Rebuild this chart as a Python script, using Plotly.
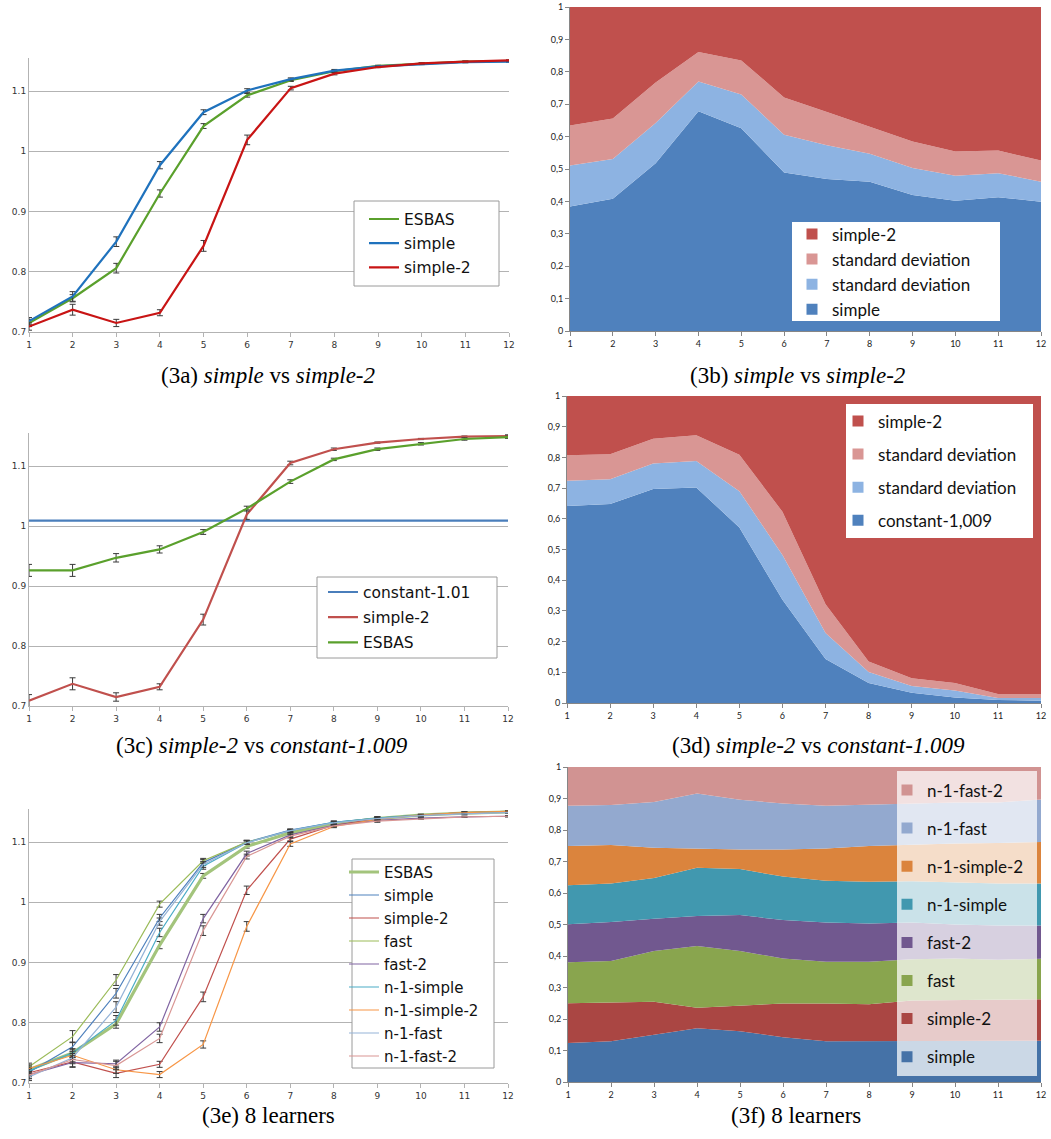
import plotly.graph_objects as go

W, H = 1051, 1139

# ---------------- data ----------------
steps = [1, 2, 3, 4, 5, 6, 7, 8, 9, 10, 11, 12]
line_yticks = [0.7, 0.8, 0.9, 1.0, 1.1]
share_tickvals = [0, 0.1, 0.2, 0.3, 0.4, 0.5, 0.6, 0.7, 0.8, 0.9, 1.0]
share_ticktext = ["0", "0,1", "0,2", "0,3", "0,4", "0,5", "0,6", "0,7", "0,8", "0,9", "1"]

# (3a)
a_esbas = [0.715, 0.756, 0.806, 0.930, 1.042, 1.093, 1.118, 1.133, 1.142, 1.146, 1.149, 1.150]
a_esbas_err = [0.006, 0.006, 0.008, 0.006, 0.004, 0.003, 0.002, 0.002, 0.001, 0.001, 0.001, 0.001]
a_simple = [0.718, 0.759, 0.850, 0.977, 1.065, 1.101, 1.120, 1.134, 1.141, 1.145, 1.148, 1.149]
a_simple_err = [0.006, 0.008, 0.008, 0.006, 0.004, 0.003, 0.002, 0.002, 0.001, 0.001, 0.001, 0.001]
a_simple2 = [0.709, 0.737, 0.715, 0.732, 0.843, 1.019, 1.105, 1.129, 1.140, 1.146, 1.149, 1.151]
a_simple2_err = [0.006, 0.009, 0.006, 0.005, 0.009, 0.008, 0.003, 0.002, 0.001, 0.001, 0.001, 0.001]

# (3b) stacked shares
b_simple = [0.384, 0.408, 0.518, 0.678, 0.626, 0.489, 0.469, 0.461, 0.420, 0.402, 0.413, 0.399]
b_sd_low = [0.127, 0.123, 0.124, 0.092, 0.104, 0.117, 0.104, 0.086, 0.083, 0.077, 0.074, 0.062]
b_sd_high = [0.123, 0.125, 0.125, 0.091, 0.105, 0.115, 0.103, 0.084, 0.082, 0.075, 0.070, 0.065]
b_simple2 = [0.366, 0.344, 0.233, 0.139, 0.165, 0.279, 0.324, 0.369, 0.415, 0.446, 0.443, 0.474]

# (3c)
c_const = [1.009, 1.009, 1.009, 1.009, 1.009, 1.009, 1.009, 1.009, 1.009, 1.009, 1.009, 1.009]
c_simple2 = [0.709, 0.737, 0.715, 0.732, 0.844, 1.019, 1.105, 1.128, 1.139, 1.145, 1.149, 1.150]
c_simple2_err = [0.010, 0.010, 0.007, 0.005, 0.009, 0.008, 0.003, 0.002, 0.001, 0.001, 0.001, 0.002]
c_esbas = [0.926, 0.926, 0.947, 0.961, 0.990, 1.029, 1.074, 1.111, 1.128, 1.137, 1.145, 1.148]
c_esbas_err = [0.010, 0.010, 0.007, 0.006, 0.004, 0.004, 0.003, 0.002, 0.002, 0.002, 0.002, 0.002]

# (3d) stacked shares
d_const = [0.642, 0.648, 0.697, 0.702, 0.572, 0.336, 0.143, 0.065, 0.033, 0.018, 0.010, 0.007]
d_sd_low = [0.082, 0.081, 0.083, 0.086, 0.118, 0.146, 0.085, 0.036, 0.022, 0.023, 0.006, 0.009]
d_sd_high = [0.083, 0.081, 0.081, 0.084, 0.119, 0.141, 0.094, 0.034, 0.026, 0.024, 0.013, 0.013]
d_simple2 = [0.193, 0.190, 0.139, 0.128, 0.191, 0.377, 0.678, 0.865, 0.919, 0.935, 0.971, 0.971]

# (3e) 8 learners + ESBAS
e_esbas = [0.722, 0.750, 0.798, 0.929, 1.044, 1.093, 1.115, 1.130, 1.139, 1.145, 1.148, 1.150]
e_simple = [0.718, 0.760, 0.849, 0.974, 1.066, 1.100, 1.120, 1.133, 1.140, 1.145, 1.149, 1.151]
e_simple2 = [0.717, 0.735, 0.716, 0.731, 0.843, 1.020, 1.105, 1.128, 1.139, 1.145, 1.149, 1.150]
e_fast = [0.727, 0.777, 0.871, 0.997, 1.069, 1.100, 1.118, 1.132, 1.140, 1.145, 1.149, 1.151]
e_fast2 = [0.714, 0.734, 0.732, 0.793, 0.973, 1.081, 1.112, 1.128, 1.136, 1.140, 1.142, 1.143]
e_n1simple = [0.720, 0.750, 0.804, 0.950, 1.060, 1.099, 1.119, 1.133, 1.140, 1.145, 1.148, 1.150]
e_n1simple2 = [0.724, 0.746, 0.722, 0.714, 0.764, 0.960, 1.097, 1.126, 1.138, 1.145, 1.149, 1.151]
e_n1fast = [0.710, 0.742, 0.826, 0.968, 1.063, 1.099, 1.119, 1.132, 1.139, 1.144, 1.147, 1.149]
e_n1fast2 = [0.713, 0.739, 0.729, 0.774, 0.953, 1.076, 1.110, 1.127, 1.135, 1.139, 1.142, 1.143]
e_esbas_err = [0.006, 0.006, 0.007, 0.006, 0.004, 0.003, 0.002, 0.002, 0.002, 0.001, 0.001, 0.001]
e_simple_err = [0.006, 0.008, 0.008, 0.006, 0.005, 0.003, 0.002, 0.002, 0.002, 0.001, 0.001, 0.001]
e_simple2_err = [0.006, 0.008, 0.007, 0.005, 0.008, 0.007, 0.003, 0.002, 0.002, 0.001, 0.001, 0.001]
e_fast_err = [0.006, 0.010, 0.009, 0.005, 0.004, 0.003, 0.002, 0.002, 0.002, 0.001, 0.001, 0.001]
e_fast2_err = [0.006, 0.008, 0.006, 0.007, 0.007, 0.004, 0.003, 0.002, 0.002, 0.001, 0.001, 0.001]
e_n1simple_err = [0.006, 0.007, 0.008, 0.007, 0.005, 0.003, 0.002, 0.002, 0.002, 0.001, 0.001, 0.001]
e_n1simple2_err = [0.006, 0.007, 0.006, 0.005, 0.006, 0.008, 0.004, 0.002, 0.002, 0.001, 0.001, 0.001]
e_n1fast_err = [0.006, 0.007, 0.009, 0.006, 0.005, 0.003, 0.002, 0.002, 0.002, 0.001, 0.001, 0.001]
e_n1fast2_err = [0.006, 0.007, 0.007, 0.007, 0.008, 0.004, 0.003, 0.002, 0.002, 0.001, 0.001, 0.001]

# (3f) stacked shares of the 8 learners
f_simple = [0.124, 0.129, 0.150, 0.171, 0.161, 0.142, 0.129, 0.129, 0.131, 0.131, 0.131, 0.131]
f_simple2 = [0.126, 0.123, 0.105, 0.065, 0.082, 0.107, 0.120, 0.118, 0.128, 0.130, 0.132, 0.132]
f_fast = [0.130, 0.132, 0.161, 0.196, 0.173, 0.143, 0.133, 0.135, 0.131, 0.131, 0.125, 0.128]
f_fast2 = [0.121, 0.124, 0.102, 0.095, 0.114, 0.122, 0.124, 0.121, 0.116, 0.108, 0.109, 0.106]
f_n1simple = [0.124, 0.122, 0.130, 0.153, 0.146, 0.138, 0.133, 0.133, 0.131, 0.133, 0.133, 0.133]
f_n1simple2 = [0.124, 0.122, 0.096, 0.061, 0.062, 0.086, 0.102, 0.113, 0.117, 0.124, 0.129, 0.132]
f_n1fast = [0.128, 0.127, 0.145, 0.175, 0.158, 0.146, 0.136, 0.131, 0.130, 0.130, 0.128, 0.135]
f_n1fast2 = [0.123, 0.121, 0.111, 0.084, 0.104, 0.116, 0.123, 0.120, 0.116, 0.113, 0.113, 0.103]

# ---------------- styling ----------------
LINE_FONT = "DejaVu Sans"
AREA_FONT = "Lato"
ERR = dict(type="data", color="#3a3a3a", thickness=1, width=3)

fig = go.Figure()


def dom_x(l, r):
    return [l / W, r / W]


def dom_y(t, b):
    return [1 - b / H, 1 - t / H]


panels = {
    1: dict(x=(29, 509), y=(58, 332), kind="line"),
    2: dict(x=(570, 1041), y=(7, 331), kind="area"),
    3: dict(x=(29, 508), y=(433, 706), kind="line"),
    4: dict(x=(567, 1041), y=(396, 703), kind="area"),
    5: dict(x=(29, 508), y=(809, 1083), kind="line"),
    6: dict(x=(568, 1041), y=(767, 1082), kind="area"),
}

layout = {}
for n, p in panels.items():
    xs = "xaxis" if n == 1 else f"xaxis{n}"
    ys = "yaxis" if n == 1 else f"yaxis{n}"
    an_x = "x" if n == 1 else f"x{n}"
    an_y = "y" if n == 1 else f"y{n}"
    if p["kind"] == "line":
        axcol = "#b3b3b3"
        layout[xs] = dict(domain=dom_x(*p["x"]), anchor=an_y, range=[1, 12], tickvals=steps,
                          showgrid=False, zeroline=False, showline=True, linecolor=axcol, linewidth=1,
                          ticks="outside", ticklen=4, tickcolor=axcol, automargin=False,
                          ticklabeloverflow="allow",
                          tickfont=dict(family=LINE_FONT, size=9, color="#333"))
        layout[ys] = dict(domain=dom_y(*p["y"]), anchor=an_x, range=[0.7, 1.155], tickvals=line_yticks,
                          showgrid=True, gridcolor="#b3b3b3", gridwidth=1, zeroline=False,
                          showline=True, linecolor=axcol, linewidth=1, ticks="", automargin=False,
                          ticklabeloverflow="allow",
                          tickfont=dict(family=LINE_FONT, size=9, color="#333"))
    else:
        axcol = "#868686"
        layout[xs] = dict(domain=dom_x(*p["x"]), anchor=an_y, range=[1, 12], tickvals=steps,
                          showgrid=False, zeroline=False, showline=True, linecolor=axcol, linewidth=1,
                          ticks="outside", ticklen=4, tickcolor=axcol, automargin=False,
                          ticklabeloverflow="allow",
                          tickfont=dict(family=AREA_FONT, size=9, color="#222"))
        layout[ys] = dict(domain=dom_y(*p["y"]), anchor=an_x, range=[0, 1], tickvals=share_tickvals,
                          ticktext=share_ticktext, showgrid=False, zeroline=False, showline=True,
                          linecolor=axcol, linewidth=1, ticks="outside", ticklen=4, tickcolor=axcol,
                          automargin=False, ticklabeloverflow="allow",
                          tickfont=dict(family=AREA_FONT, size=9, color="#222"))


def add_line(n, y, err, name, color, width, legend, rank):
    xa = "x" if n == 1 else f"x{n}"
    ya = "y" if n == 1 else f"y{n}"
    kw = {}
    if err is not None:
        kw["error_y"] = dict(ERR, array=err)
    fig.add_trace(go.Scatter(x=steps, y=y, mode="lines", name=name, xaxis=xa, yaxis=ya,
                             line=dict(color=color, width=width), legend=legend,
                             legendgroup=f"{legend}-{rank}", legendrank=rank, cliponaxis=False, **kw))


def add_area(n, y, name, color, legend, rank, group):
    xa = f"x{n}"
    ya = f"y{n}"
    fig.add_trace(go.Scatter(x=steps, y=y, mode="lines", stackgroup=group, name=name, xaxis=xa, yaxis=ya,
                             line=dict(width=0, color=color), fillcolor=color, showlegend=False,
                             legendgroup=f"{legend}-{rank}", legendrank=rank))
    fig.add_trace(go.Scatter(x=[None], y=[None], mode="markers", name=name, xaxis=xa, yaxis=ya,
                             marker=dict(symbol="square", size=11, color=color), legend=legend,
                             legendgroup=f"{legend}-{rank}", legendrank=rank))


# (3a)
add_line(1, a_esbas, a_esbas_err, "ESBAS", "#5aa02c", 2.2, "legend", 1)
add_line(1, a_simple, a_simple_err, "simple", "#1f72bd", 2.2, "legend", 2)
add_line(1, a_simple2, a_simple2_err, "simple-2", "#c81414", 2.2, "legend", 3)

# (3b)
add_area(2, b_simple, "simple", "#4f81bd", "legend2", 4, "b")
add_area(2, b_sd_low, "standard deviation", "#8db3e2", "legend2", 3, "b")
add_area(2, b_sd_high, "standard deviation", "#d99694", "legend2", 2, "b")
add_area(2, b_simple2, "simple-2", "#c0504d", "legend2", 1, "b")

# (3c)
add_line(3, c_const, None, "constant-1.01", "#4a7ebb", 2.2, "legend3", 1)
add_line(3, c_simple2, c_simple2_err, "simple-2", "#c0504d", 2.2, "legend3", 2)
add_line(3, c_esbas, c_esbas_err, "ESBAS", "#5aa02c", 2.2, "legend3", 3)

# (3d)
add_area(4, d_const, "constant-1,009", "#4f81bd", "legend4", 4, "d")
add_area(4, d_sd_low, "standard deviation", "#8db3e2", "legend4", 3, "d")
add_area(4, d_sd_high, "standard deviation", "#d99694", "legend4", 2, "d")
add_area(4, d_simple2, "simple-2", "#c0504d", "legend4", 1, "d")

# (3e)
add_line(5, e_esbas, e_esbas_err, "ESBAS", "#a3c47c", 3.2, "legend5", 1)
add_line(5, e_simple, e_simple_err, "simple", "#4f81bd", 1.2, "legend5", 2)
add_line(5, e_simple2, e_simple2_err, "simple-2", "#c0504d", 1.2, "legend5", 3)
add_line(5, e_fast, e_fast_err, "fast", "#9bbb59", 1.2, "legend5", 4)
add_line(5, e_fast2, e_fast2_err, "fast-2", "#8064a2", 1.2, "legend5", 5)
add_line(5, e_n1simple, e_n1simple_err, "n-1-simple", "#4bacc6", 1.2, "legend5", 6)
add_line(5, e_n1simple2, e_n1simple2_err, "n-1-simple-2", "#f79646", 1.2, "legend5", 7)
add_line(5, e_n1fast, e_n1fast_err, "n-1-fast", "#95b3d7", 1.2, "legend5", 8)
add_line(5, e_n1fast2, e_n1fast2_err, "n-1-fast-2", "#d99694", 1.2, "legend5", 9)

# (3f)
add_area(6, f_simple, "simple", "#4572a7", "legend6", 8, "f")
add_area(6, f_simple2, "simple-2", "#aa4643", "legend6", 7, "f")
add_area(6, f_fast, "fast", "#89a54e", "legend6", 6, "f")
add_area(6, f_fast2, "fast-2", "#71588f", "legend6", 5, "f")
add_area(6, f_n1simple, "n-1-simple", "#4198af", "legend6", 4, "f")
add_area(6, f_n1simple2, "n-1-simple-2", "#db843d", "legend6", 3, "f")
add_area(6, f_n1fast, "n-1-fast", "#93a9cf", "legend6", 2, "f")
add_area(6, f_n1fast2, "n-1-fast-2", "#d19392", "legend6", 1, "f")

# legend placement: text left edge, first row centre, font, size, gap; box drawn as a shape
legend_specs = {
    "legend": dict(text_x=404, row1=219, font=LINE_FONT, size=15.5, gap=1,
                   box=(354, 201, 499, 286), fill="white", border="#9a9a9a"),
    "legend2": dict(text_x=832, row1=234, font=AREA_FONT, size=17, gap=0,
                    box=(792, 222, 1000, 321), fill="white", border=None),
    "legend3": dict(text_x=363, row1=592, font=LINE_FONT, size=15.5, gap=2,
                    box=(317, 577, 497, 658), fill="white", border="#9a9a9a"),
    "legend4": dict(text_x=878, row1=421, font=AREA_FONT, size=17, gap=8,
                    box=(846, 404, 1033, 538), fill="white", border=None),
    "legend5": dict(text_x=384, row1=872, font=LINE_FONT, size=15, gap=0.5,
                    box=(352, 859, 494, 1068), fill="white", border="#9a9a9a"),
    "legend6": dict(text_x=927, row1=790, font=AREA_FONT, size=17, gap=13,
                    box=(897, 771, 1037, 1076), fill="rgba(255,255,255,0.72)", border=None),
}

shapes = []
for key, s in legend_specs.items():
    row_h = 1.3 * s["size"] + 3
    top = s["row1"] - row_h / 2 - 5
    layout[key] = dict(x=(s["text_x"] - 40) / W, y=1 - top / H, xanchor="left", yanchor="top",
                       font=dict(family=s["font"], size=s["size"], color="#111"),
                       bgcolor="rgba(0,0,0,0)", borderwidth=0, tracegroupgap=s["gap"],
                       itemwidth=30, traceorder="grouped")
    l, t, r, b = s["box"]
    shapes.append(dict(type="rect", xref="paper", yref="paper", layer="above",
                       x0=l / W, x1=r / W, y0=1 - b / H, y1=1 - t / H, fillcolor=s["fill"],
                       line=dict(color=s["border"] if s["border"] else "rgba(0,0,0,0)",
                                 width=1 if s["border"] else 0)))

captions = [
    (268, 375, "(3a) <i>simple</i> vs <i>simple-2</i>"),
    (797, 375, "(3b) <i>simple</i> vs <i>simple-2</i>"),
    (262, 745, "(3c) <i>simple-2</i> vs <i>constant-1.009</i>"),
    (818, 745, "(3d) <i>simple-2</i> vs <i>constant-1.009</i>"),
    (268, 1115, "(3e) 8 learners"),
    (796, 1115, "(3f) 8 learners"),
]
annotations = []
for cx, cy, txt in captions:
    annotations.append(dict(x=cx / W, y=1 - cy / H, xref="paper", yref="paper", text=txt,
                            showarrow=False, xanchor="center", yanchor="middle",
                            font=dict(family="Liberation Serif", size=23, color="black")))

fig.update_layout(template="none", width=W, height=H, margin=dict(l=0, r=0, t=0, b=0, pad=0),
                  paper_bgcolor="white", plot_bgcolor="white", annotations=annotations,
                  shapes=shapes, showlegend=True, **layout)

fig.write_html("out.html", config={"displayModeBar": False},
               post_script="document.body.style.margin='0';document.body.style.overflow='hidden';")
